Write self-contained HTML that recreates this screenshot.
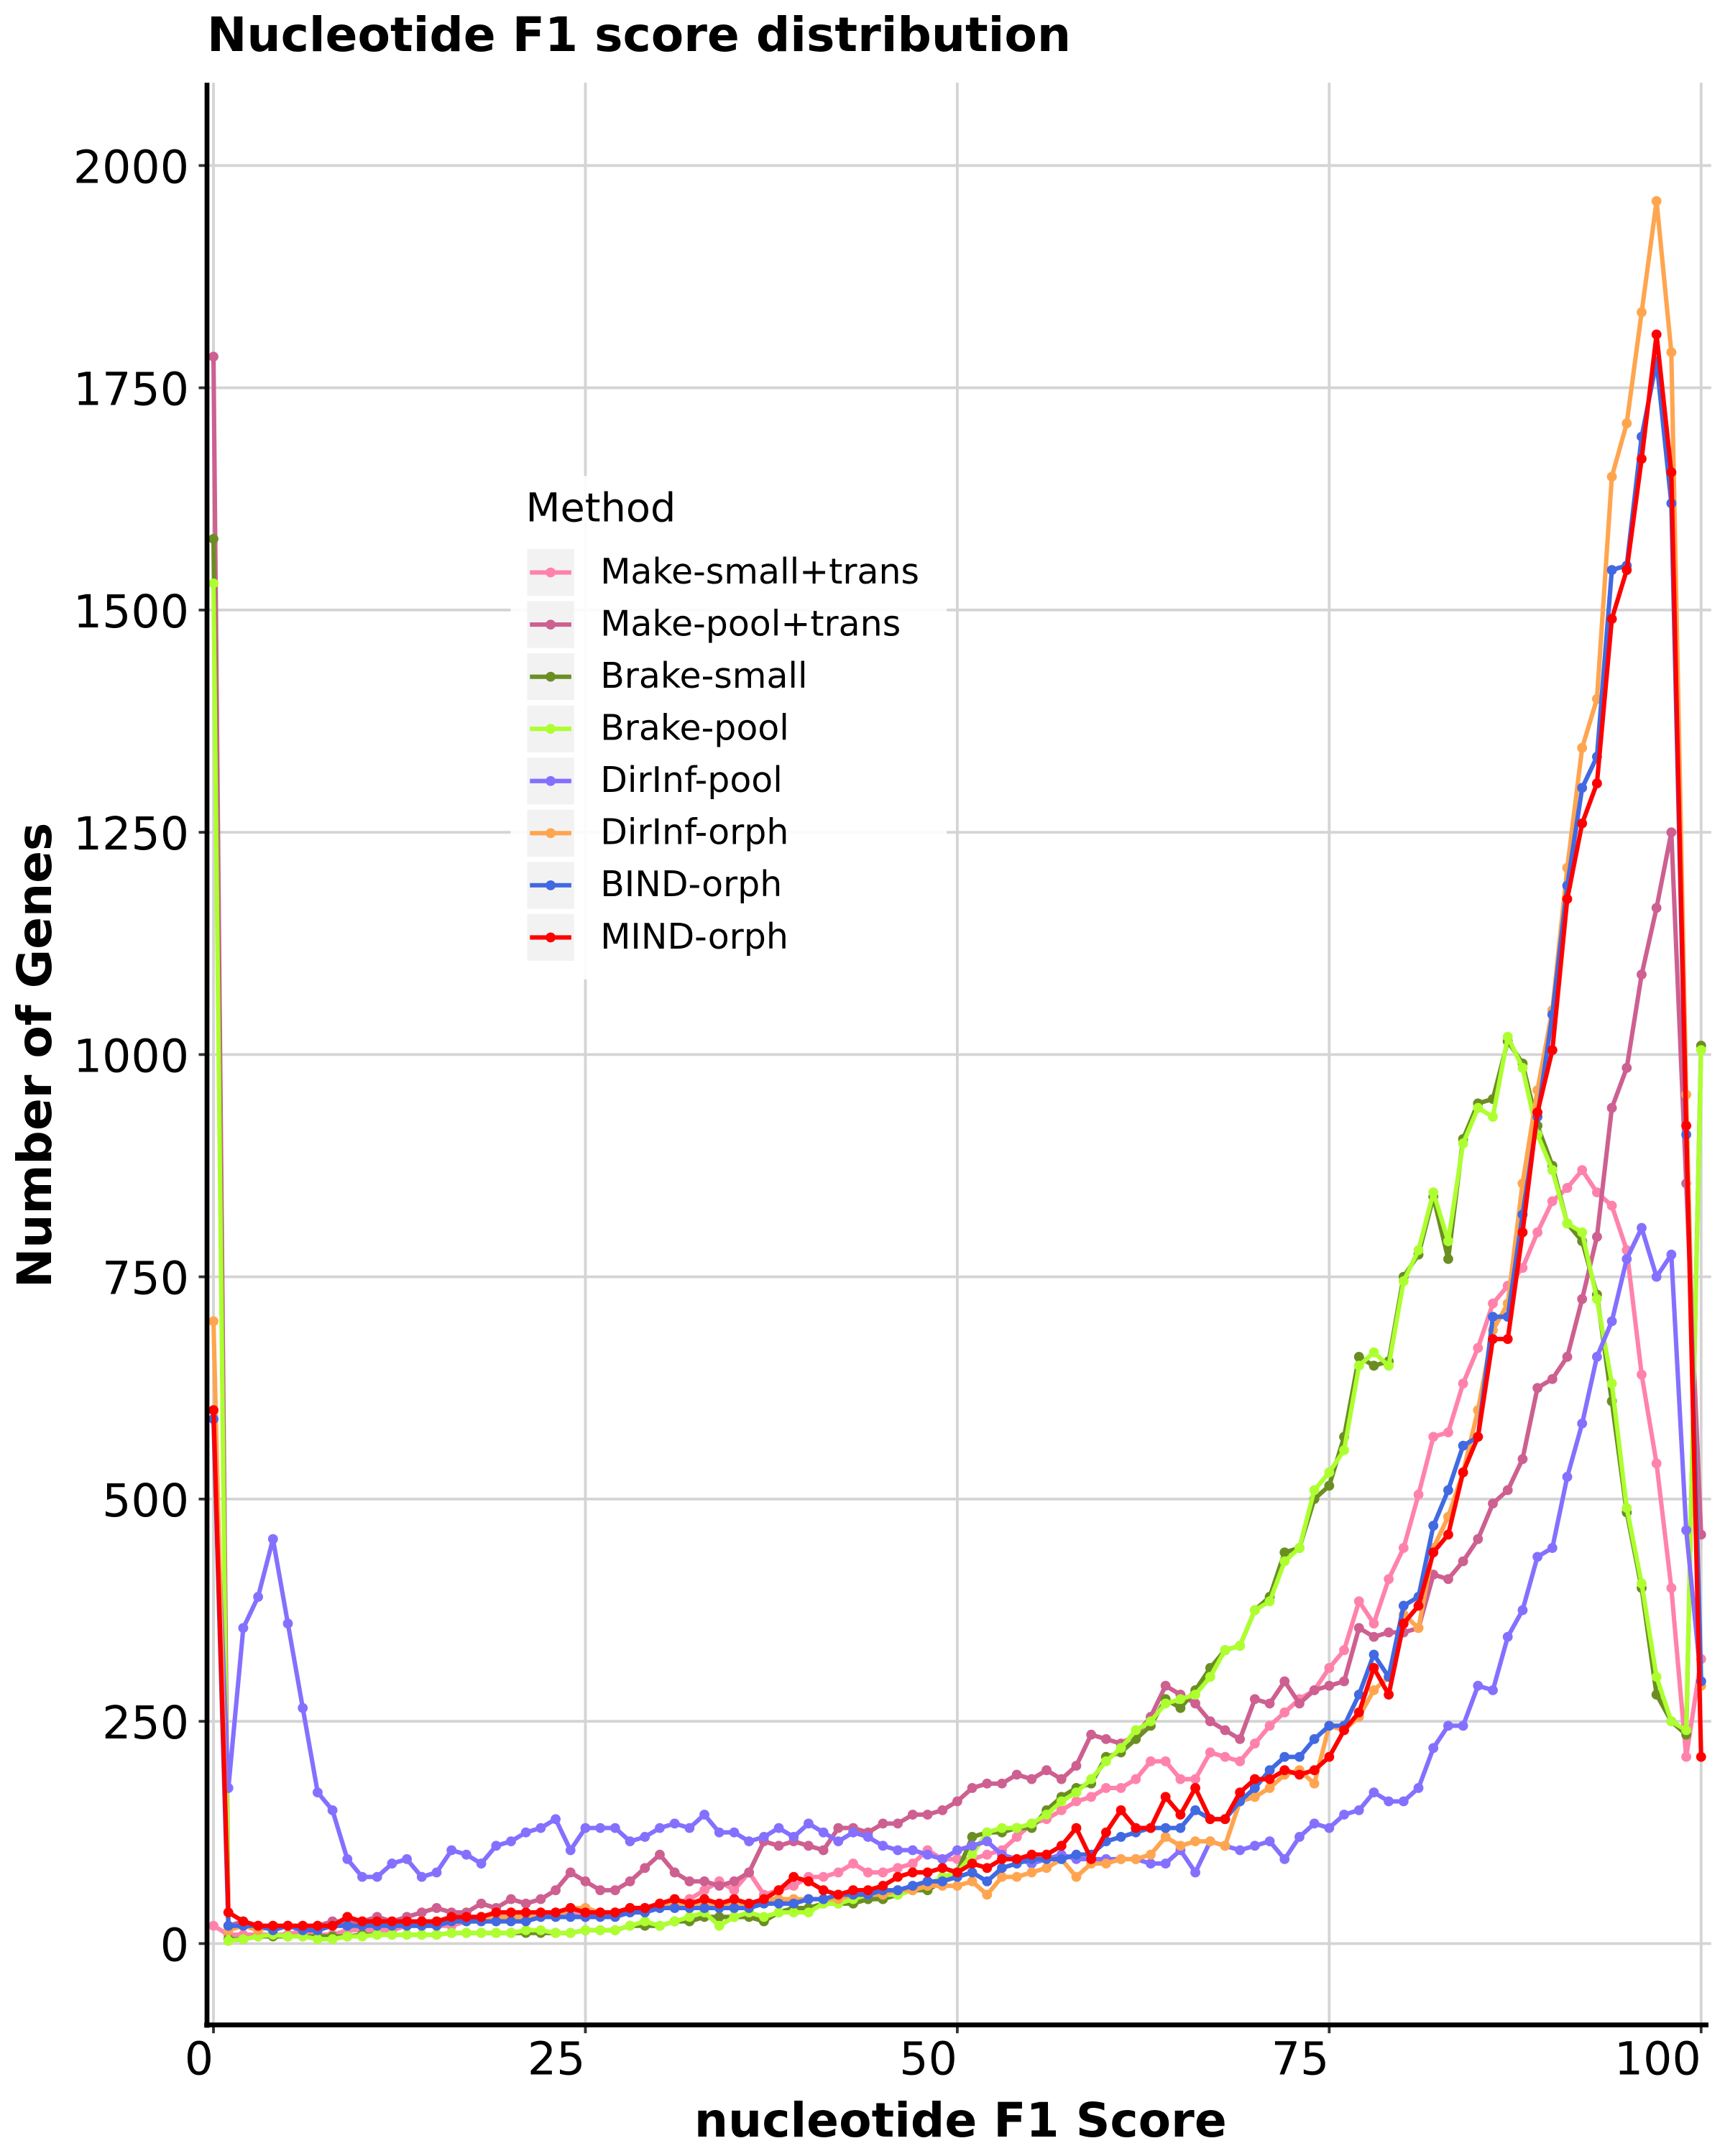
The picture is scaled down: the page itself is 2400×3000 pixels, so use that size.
<!DOCTYPE html>
<html><head><meta charset="utf-8"><style>
html,body{margin:0;padding:0;background:#fff;}
svg{display:block;font-family:"DejaVu Sans","Liberation Sans",sans-serif;}
</style></head><body>
<svg id="chart" width="2400" height="3000" viewBox="0 0 1250 1563" preserveAspectRatio="none" xmlns="http://www.w3.org/2000/svg">
<rect x="0" y="0" width="1250" height="1563" fill="#fff"/>
<text x="150" y="37" font-size="34.5" font-weight="bold">Nucleotide F1 score distribution</text>
<g id="grid"></g>
<g id="series"></g>
<g id="axes"></g>
<g id="legend"></g>
<text x="696" y="1549" font-size="34.5" font-weight="bold" text-anchor="middle">nucleotide F1 Score</text>
<text transform="translate(37,765) rotate(-90)" font-size="34.5" font-weight="bold" text-anchor="middle">Number of Genes</text>
</svg>
<script>
const xTicks=[0,25,50,75,100];
const yTicks=[0,250,500,750,1000,1250,1500,1750,2000];
const methods=["Make-small+trans","Make-pool+trans","Brake-small","Brake-pool","DirInf-pool","DirInf-orph","BIND-orph","MIND-orph"];
const colors=["#FF82AB","#CD6090","#6B8E23","#ADFF2F","#8470FF","#FFA54F","#4169E1","#FF0000"];
const makeSmall=[20,10,10,10,10,10,15,10,10,15, 15,15,15,20,20,20,20,25,25,25, 30,30,30,35,35,30,35,35,40,40, 45,45,50,60,70,60,80,55,60,65, 75,75,80,90,80,80,85,90,105,95, 95,95,100,105,120,135,140,150,160,165, 175,175,185,205,205,185,185,215,210,205, 225,245,260,275,285,310,330,385,360,410, 445,505,570,575,630,670,720,740,760,800, 835,850,870,845,830,780,640,540,400,210, 320];
const makePool=[1785,20,25,20,20,20,20,20,25,25, 25,30,25,30,35,40,35,35,45,40, 50,45,50,60,80,70,60,60,70,85, 100,80,70,70,65,70,80,115,110,115, 110,105,130,130,125,135,135,145,145,150, 160,175,180,180,190,185,195,185,200,235, 230,225,235,255,290,280,270,250,240,230, 275,270,295,270,285,290,295,355,345,350, 350,355,415,410,430,455,495,510,545,625, 635,660,725,795,940,985,1090,1165,1250,855, 460];
const brakeSmall=[1580,5,5,8,8,8,8,8,8,8, 10,10,10,10,10,10,12,12,12,12, 12,12,12,12,12,15,15,15,20,20, 20,25,25,30,30,30,30,25,35,40, 40,45,45,45,50,50,55,60,60,70, 80,120,125,125,130,130,150,165,175,180, 210,215,230,245,275,265,285,310,330,335, 375,390,440,445,500,515,570,660,650,655, 750,775,840,770,905,945,950,1015,990,920, 875,810,790,730,610,485,400,280,250,235, 1010];
const brakePool=[1530,3,5,8,10,8,8,5,5,8, 8,10,10,10,10,10,12,12,12,12, 12,15,15,12,12,15,15,15,20,25, 20,25,30,35,20,30,35,30,35,35, 35,45,45,50,55,55,55,60,65,75, 80,100,125,130,130,135,145,160,170,185, 205,220,240,250,270,275,280,300,330,335, 375,385,430,445,510,530,555,650,665,650, 745,780,845,790,900,940,930,1020,985,910, 870,810,800,725,630,490,405,300,250,240, 1005];
const dirInfPool=[590,175,355,390,455,360,265,170,150,95, 75,75,90,95,75,80,105,100,90,110, 115,125,130,140,105,130,130,130,115,120, 130,135,130,145,125,125,115,120,130,120, 135,125,115,125,120,110,105,105,100,95, 105,110,115,100,95,90,95,100,95,95, 95,95,95,90,90,105,80,115,110,105, 110,115,95,120,135,130,145,150,170,160, 160,175,220,245,245,290,285,345,375,435, 445,525,585,660,700,770,805,750,775,465, 295];
const dirInfOrph=[700,15,20,15,20,20,15,15,20,20, 20,20,20,20,25,25,25,25,25,30, 30,30,30,30,40,40,35,35,40,40, 40,45,45,45,45,45,45,50,50,50, 50,50,50,55,55,55,60,60,65,65, 65,70,55,75,75,80,85,95,75,90, 90,95,95,100,120,110,115,115,110,160, 165,175,190,195,180,245,240,255,285,300, 370,355,445,480,530,600,690,720,855,960, 1050,1210,1345,1400,1650,1710,1835,1960,1790,955, 290];
const bindOrph=[590,20,20,20,15,20,15,15,20,20, 20,20,20,20,20,20,25,25,25,25, 25,25,30,30,30,30,30,30,35,35, 40,40,40,40,40,40,40,45,45,45, 50,50,55,55,55,60,60,65,70,70, 75,80,70,85,90,95,95,95,100,100, 115,120,125,130,130,130,150,140,140,160, 175,195,210,210,230,245,245,280,325,300, 380,390,470,510,560,570,705,705,820,930, 1045,1190,1300,1335,1545,1550,1695,1780,1620,910, 295];
const mindOrph=[600,35,25,20,20,20,20,20,20,30, 25,25,25,25,25,25,30,30,30,35, 35,35,35,35,40,35,35,35,40,40, 45,50,45,50,45,50,45,50,60,75, 70,60,55,60,60,65,75,80,80,85, 80,90,85,95,95,100,100,110,130,95, 125,150,130,130,165,145,175,140,140,170, 185,185,195,190,195,210,240,260,310,280, 360,380,440,460,530,570,680,680,800,935, 1005,1175,1260,1305,1490,1545,1670,1810,1655,920, 210];
const seriesData=[makeSmall,makePool,brakeSmall,brakePool,dirInfPool,dirInfOrph,bindOrph,mindOrph];

const NS="http://www.w3.org/2000/svg";
const X=v=>154.7+v*10.78;
const Y=v=>1409-v*0.6445;
function mk(tag,attrs,parent){const e=document.createElementNS(NS,tag);for(const k in attrs)e.setAttribute(k,attrs[k]);parent.appendChild(e);return e;}
const grid=document.getElementById('grid'),axes=document.getElementById('axes'),ser=document.getElementById('series'),leg=document.getElementById('legend');
xTicks.forEach(t=>{
  const l=mk('line',{x1:X(t),x2:X(t),y1:60,y2:1468,stroke:'#d4d4d4','stroke-width':2},grid);
  
  
  const tk=mk('line',{x1:X(t),x2:X(t),y1:1468,y2:1474,stroke:'#333','stroke-width':2},axes);
  
  
  const tx=mk('text',{x:X(t),y:1504,'font-size':33,'text-anchor':'end'},axes);
  tx.textContent=t;
  
  
});
yTicks.forEach(t=>{
  const l=mk('line',{x1:150,x2:1240,y1:Y(t),y2:Y(t),stroke:'#d4d4d4','stroke-width':2},grid);
  
  
  const tk=mk('line',{x1:144,x2:150,y1:Y(t),y2:Y(t),stroke:'#333','stroke-width':2},axes);
  
  
  const tx=mk('text',{x:137,y:Y(t)+12.5,'font-size':33,'text-anchor':'end'},axes);
  tx.textContent=t;
  
  
});
const ls=mk('line',{x1:150,x2:150,y1:60,y2:1470,stroke:'#000','stroke-width':3.5},axes);


const bs=mk('line',{x1:148,x2:1238,y1:1468,y2:1468,stroke:'#000','stroke-width':3.5},axes);



seriesData.forEach((arr,si)=>{
  const g=mk('g',{},ser);
  
  
  const pts=arr.map((v,i)=>X(i).toFixed(1)+','+Y(v).toFixed(1)).join(' ');
  const pl=mk('polyline',{points:pts,fill:'none',stroke:colors[si],'stroke-width':3.2,'stroke-linejoin':'round'},g);
  
  
  arr.forEach((v,i)=>{
    const c=mk('circle',{cx:X(i),cy:Y(v),r:3.6,fill:colors[si]},g);
    
    
  });
});

const box=mk('rect',{x:370,y:345,width:316,height:365,fill:'#fff','fill-opacity':0.9},leg);


const lt=mk('text',{x:381,y:378,'font-size':29},leg);
lt.textContent='Method';


methods.forEach((m,i)=>{
  const y=415+i*37.8;
  const g=mk('g',{},leg);
  
  
  mk('rect',{x:382,y:y-17,width:34,height:34,fill:'#f2f2f2'},g);
  mk('line',{x1:384,x2:414,y1:y,y2:y,stroke:colors[i],'stroke-width':3.2},g);
  mk('circle',{cx:399,cy:y,r:3.6,fill:colors[i]},g);
  const t=mk('text',{x:435,y:y+8,'font-size':25.5},g);
  t.textContent=m;
});
</script>
</body></html>
